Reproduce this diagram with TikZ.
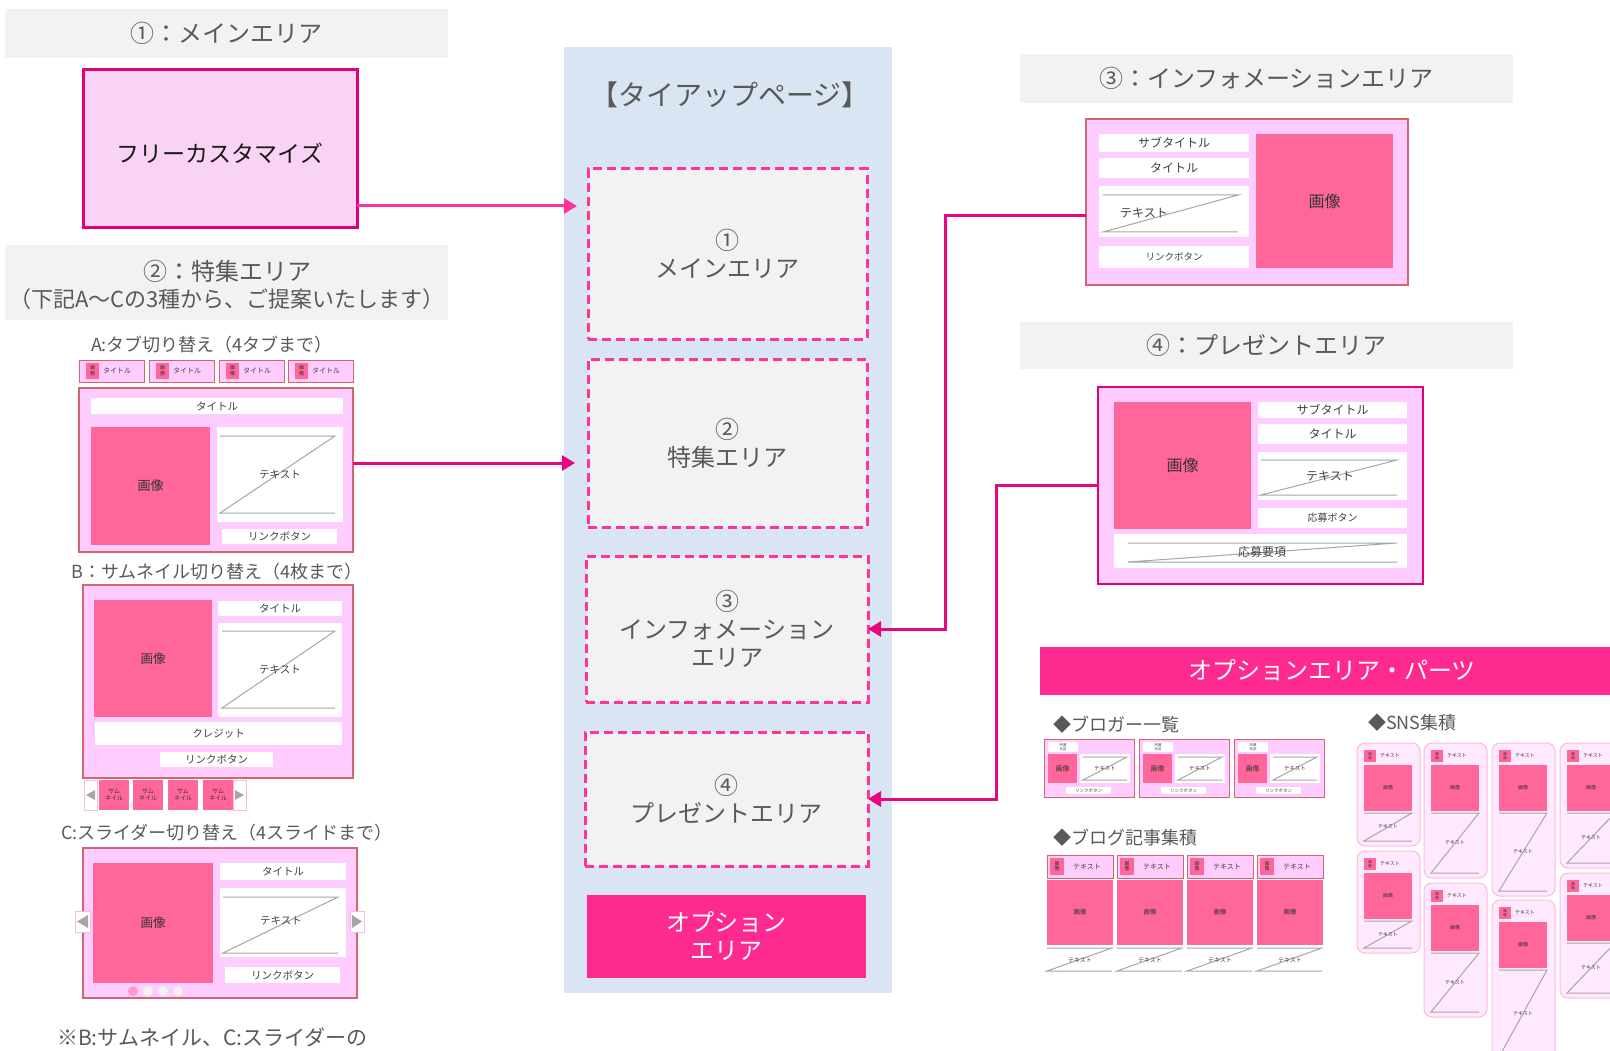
\documentclass[tikz,border=0pt]{standalone}
\usepackage{fontspec}
\setmainfont{Noto Sans CJK JP}
\usetikzlibrary{arrows.meta}
\definecolor{hdr}{HTML}{F2F2F2}
\definecolor{txtg}{HTML}{595959}
\definecolor{txtd}{HTML}{404040}
\definecolor{mainfill}{HTML}{F9D3F3}
\definecolor{mainborder}{HTML}{E0007A}
\definecolor{pnl}{HTML}{FFCCFF}
\definecolor{pnlb}{HTML}{D0666E}
\definecolor{img}{HTML}{FF6699}
\definecolor{arr1}{HTML}{FF3399}
\definecolor{arr2}{HTML}{E8067F}
\definecolor{colbg}{HTML}{DAE5F3}
\definecolor{dashc}{HTML}{FF3399}
\definecolor{opt}{HTML}{FF2A90}
\definecolor{zline}{HTML}{A6A6A6}
\definecolor{snsfill}{HTML}{FFE9FF}
\definecolor{snsb}{HTML}{FFB8DC}
\definecolor{dotp}{HTML}{FF99CC}
\newcommand{\fs}[2]{\fontsize{#1}{#2}\selectfont}
\newcommand{\BX}[7]{\node[#1,minimum width={(#5)-(#3)},minimum height={(#6)-(#4)}] (#2) at ({((#3)+(#5))/2},{((#4)+(#6))/2}) {#7};}
\newcommand{\Zl}[4]{\draw[zl] (#1,#2) -- (#3,#2) -- (#1,#4) -- (#3,#4);}
\tikzset{
  base/.style={inner sep=0pt, outer sep=0pt, align=center, text=txtd},
  hdrbox/.style={base, fill=hdr, text=txtg, font=\fs{24}{28}},
  lbl/.style={base, text=txtg, font=\fs{18}{22}},
  mainbox/.style={base, fill=mainfill, draw=mainborder, line width=3pt, text=black!90, font=\fs{23}{27}},
  pnlbox/.style={base, fill=pnl, draw=pnlb, line width=1.5pt},
  wbox/.style={base, fill=white},
  imgbox/.style={base, fill=img, text=black!80},
  colbox/.style={base, fill=colbg},
  dbox/.style={base, fill=hdr, draw=dashc, line width=3pt, dash pattern=on 9pt off 5pt, text=txtg, font=\fs{24}{28}},
  optbox/.style={base, fill=opt, text=white, font=\fs{24}{28}},
  conn/.style={line width=3pt, -{Triangle[length=13pt,width=15pt]}},
  zl/.style={draw=zline, line width=1pt},
  snscard/.style={base, fill=snsfill, draw=snsb, line width=1pt, rounded corners=8pt},
  sidebtn/.style={base, fill=white, draw=snsb, line width=1pt},
}
\begin{document}
\begin{tikzpicture}[x=1pt,y=-1pt]
\useasboundingbox (0,0) rectangle (1610,1051);
\clip (0,0) rectangle (1610,1051);
% ---------- left column ----------
\BX{hdrbox}{h1}{5}{9}{448}{58}{①：メインエリア}
\BX{mainbox}{mfree}{83}{70}{357}{228}{}
\node[base,text=black!90,font=\fs{23}{27}] (mfreet) at (220,153) {フリーカスタマイズ};
\BX{hdrbox}{h2}{5}{245}{448}{320}{}
\node[base,text=txtg,font=\fs{24}{28}] (h2a) at (227,271) {②：特集エリア};
\node[base,text=txtg,font=\fs{22}{26}] (h2b) at (227,299) {（下記A～Cの3種から、ご提案いたします）};
% A
\node[lbl] (la) at (212,345) {A:タブ切り替え（4タブまで）};
\foreach \x [count=\i] in {79,149,219,288} {
  \BX{pnlbox,line width=1pt}{tab\i}{\x}{360}{\x+65}{382}{}
  \BX{imgbox,font=\fs{5}{5.5}}{tabi\i}{\x+7}{363}{\x+20}{379}{画\\像}
  \node[base,font=\fs{7}{8}] (tabt\i) at (\x+38,371) {タイトル};
}
\BX{pnlbox}{pA}{79}{388}{353}{552}{}
\BX{wbox,font=\fs{10.5}{12}}{pAt}{91}{398}{343}{414}{タイトル}
\BX{imgbox,font=\fs{13}{15}}{pAi}{91}{427}{210}{545}{画像}
\BX{wbox}{pAx}{217}{427}{343}{522}{}
\Zl{220}{436}{335}{513}
\node[base,font=\fs{10.5}{12}] (pAxt) at (280,475) {テキスト};
\BX{wbox,font=\fs{10.5}{12}}{pAl}{222}{529}{337}{544}{リンクボタン}
% B
\node[lbl] (lb) at (217,572) {B：サムネイル切り替え（4枚まで）};
\BX{pnlbox}{pB}{83}{585}{353}{778}{}
\BX{imgbox,font=\fs{12.5}{15}}{pBi}{94}{600}{212}{717}{画像}
\BX{wbox,font=\fs{10.5}{12}}{pBt}{218}{601}{342}{616}{タイトル}
\BX{wbox}{pBx}{218}{623}{342}{717}{}
\Zl{222}{631}{335}{708}
\node[base,font=\fs{10.5}{12}] (pBxt) at (280,670) {テキスト};
\BX{wbox,font=\fs{10.5}{12}}{pBc}{95}{722}{342}{745}{クレジット}
\BX{wbox,font=\fs{10.5}{12}}{pBl}{160}{752}{273}{767}{リンクボタン}
\BX{sidebtn}{pBla}{84}{780}{97}{810}{}
\fill[zline] (86,795) -- (95,790) -- (95,800) -- cycle;
\foreach \x [count=\i] in {99,133,168,203} {
  \BX{imgbox,font=\fs{6}{6.5}}{thb\i}{\x}{780}{\x+30}{810}{サム\\ネイル}
}
\BX{sidebtn}{pBra}{233}{780}{246}{810}{}
\fill[zline] (244,795) -- (235,790) -- (235,800) -- cycle;
% C
\node[lbl] (lc) at (227,833) {C:スライダー切り替え（4スライドまで）};
\BX{pnlbox}{pC}{83}{848}{357}{998}{}
\BX{imgbox,font=\fs{12.5}{15}}{pCi}{93}{863}{213}{983}{画像}
\BX{wbox,font=\fs{10.5}{12}}{pCt}{220}{863}{346}{880}{タイトル}
\BX{wbox}{pCx}{220}{888}{346}{957}{}
\Zl{223}{897}{338}{953}
\node[base,font=\fs{10.5}{12}] (pCxt) at (281,921) {テキスト};
\BX{wbox,font=\fs{10.5}{12}}{pCl}{225}{967}{340}{983}{リンクボタン}
\fill[dotp] (133,991) circle (5);
\foreach \x in {148,163,178} { \fill[hdr] (\x,991) circle (5); }
\BX{sidebtn}{pCla}{75}{911}{90}{932}{}
\fill[zline] (77,921.5) -- (88,915) -- (88,928) -- cycle;
\BX{sidebtn}{pCra}{350}{911}{364}{932}{}
\fill[zline] (362,921.5) -- (352,915) -- (352,928) -- cycle;
\node[base,anchor=west,text=txtg,font=\fs{21}{24}] (note) at (57,1037) {※B:サムネイル、C:スライダーの};
% ---------- center column ----------
\BX{colbox}{col}{564}{47}{892}{993}{}
\node[base,text=txtg,font=\fs{28}{32}] (ctitle) at (730,95) {【タイアップページ】};
\BX{dbox}{d1}{588}{169}{867}{339}{①\\メインエリア}
\BX{dbox}{d2}{588}{359}{867}{527}{②\\特集エリア}
\BX{dbox}{d3}{586}{556}{868}{702}{③\\インフォメーション\\エリア}
\BX{dbox}{d4}{585}{732}{868}{866}{④\\プレゼントエリア}
\BX{optbox}{dopt}{587}{895}{866}{978}{オプション\\エリア}
% ---------- right: info ----------
\BX{hdrbox}{h3}{1020}{54}{1513}{103}{③：インフォメーションエリア}
\BX{pnlbox}{info}{1086}{119}{1408}{285}{}
\BX{wbox,font=\fs{12}{14}}{ist}{1099}{134}{1249}{152}{サブタイトル}
\BX{wbox,font=\fs{12}{14}}{it}{1099}{158}{1249}{178}{タイトル}
\BX{wbox}{ix}{1099}{186}{1249}{237}{}
\Zl{1103}{195}{1238}{232}
\node[base,font=\fs{12}{14}] (ixt) at (1144,213) {テキスト};
\BX{wbox,font=\fs{9.5}{11}}{il}{1099}{246}{1249}{268}{リンクボタン}
\BX{imgbox,font=\fs{16}{18}}{ii}{1256}{134}{1393}{268}{画像}
% ---------- right: present ----------
\BX{hdrbox}{h4}{1020}{322}{1513}{369}{④：プレゼントエリア}
\BX{pnlbox,draw=mainborder,line width=2pt}{present}{1098}{387}{1423}{584}{}
\BX{imgbox,font=\fs{16}{18}}{pi}{1114}{402}{1251}{529}{画像}
\BX{wbox,font=\fs{12}{14}}{pst}{1258}{402}{1407}{418}{サブタイトル}
\BX{wbox,font=\fs{12}{14}}{pt}{1258}{424}{1407}{444}{タイトル}
\BX{wbox}{px}{1258}{452}{1407}{500}{}
\Zl{1261}{460}{1397}{495}
\node[base,font=\fs{12}{14}] (pxt) at (1330,476) {テキスト};
\BX{wbox,font=\fs{10}{12}}{pb}{1258}{508}{1407}{528}{応募ボタン}
\BX{wbox}{pr}{1114}{534}{1407}{568}{}
\draw[zl] (1128,543) -- (1397,543) -- (1128,562) -- (1397,562);
\node[base,font=\fs{12}{14}] (prt) at (1262,552) {応募要項};
% ---------- options ----------
\BX{optbox}{oh}{1040}{647}{1625}{695}{}
\node[base,text=white,font=\fs{24}{28}] (oht) at (1332,670) {オプションエリア・パーツ};
\node[lbl,anchor=west] (lbg) at (1053,725) {◆ブロガー一覧};
\foreach \x [count=\i] in {1044,1139,1234} {
  \BX{pnlbox,line width=1pt}{bg\i}{\x}{739}{\x+90}{797}{}
  \BX{wbox,font=\fs{3.5}{4}}{bgn\i}{\x+4}{742}{\x+34}{752}{所属\\名前}
  \BX{imgbox,font=\fs{7}{8}}{bgi\i}{\x+4}{754}{\x+33}{783}{画像}
  \BX{wbox}{bgt\i}{\x+36}{754}{\x+86}{783}{}
  \Zl{\x+39}{757}{\x+83}{780}
  \node[base,font=\fs{5.5}{6}] (bgtt\i) at (\x+61,768.5) {テキスト};
  \BX{wbox,font=\fs{4.5}{5}}{bgl\i}{\x+22}{787}{\x+67}{794}{リンクボタン}
}
\node[lbl,anchor=west] (lbl2) at (1053,838) {◆ブログ記事集積};
\foreach \x [count=\i] in {1047,1117,1187,1257} {
  \BX{pnlbox,line width=1pt}{bl\i}{\x}{855}{\x+66}{878}{}
  \BX{imgbox,font=\fs{5}{5.5}}{blc\i}{\x+3}{858}{\x+17}{875}{画\\像}
  \node[base,font=\fs{7}{8}] (blt\i) at (\x+40,866.5) {テキスト};
  \BX{imgbox,font=\fs{6.5}{7}}{bli\i}{\x}{880}{\x+66}{945}{画像}
  \Zl{\x}{948}{\x+65}{971}
  \node[base,font=\fs{6}{7}] (blz\i) at (\x+33,960) {テキスト};
}
\node[lbl,anchor=west] (lsns) at (1368,723) {◆SNS集積};
\foreach \x/\ya/\yb [count=\i] in {1357/743/846,1357/851/953,1424/743/878,1424/883/1017,1492/743/896,1492/900/1062,1560/743/868,1560/873/998} {
  \BX{snscard}{sn\i}{\x}{\ya}{\x+63}{\yb}{}
  \BX{imgbox,font=\fs{3.5}{4}}{sni\i}{\x+7}{\ya+7}{\x+19}{\ya+19}{画\\像}
  \node[base,font=\fs{5}{6}] (snt\i) at (\x+33,\ya+13) {テキスト};
  \BX{imgbox,font=\fs{5}{6}}{snp\i}{\x+7}{\ya+22}{\x+55}{\ya+68}{画像}
  \Zl{\x+7}{\ya+70}{\x+55}{\yb-5}
  \node[base,font=\fs{5}{6}] (snz\i) at (\x+31,{(\ya+65+\yb)/2}) {テキスト};
}
% ---------- connectors ----------
\coordinate (ya) at (0,206);
\coordinate (yb) at (0,463);
\coordinate (yc) at (0,216);
\coordinate (yd) at (0,485);
\coordinate (xc) at (945,0);
\coordinate (xd) at (996,0);
\draw[conn,color=arr1,shorten >=11pt] (mfree.east |- ya) -- (d1.west |- ya);
\draw[conn,color=arr2,shorten >=13pt] (pA.east |- yb) -- (d2.west |- yb);
\draw[conn,color=arr2] (info.west |- yc) -| (xc |- d3.east) -- (d3.east);
\draw[conn,color=arr2] (present.west |- yd) -| (xd |- d4.east) -- (d4.east);
\end{tikzpicture}
\end{document}
